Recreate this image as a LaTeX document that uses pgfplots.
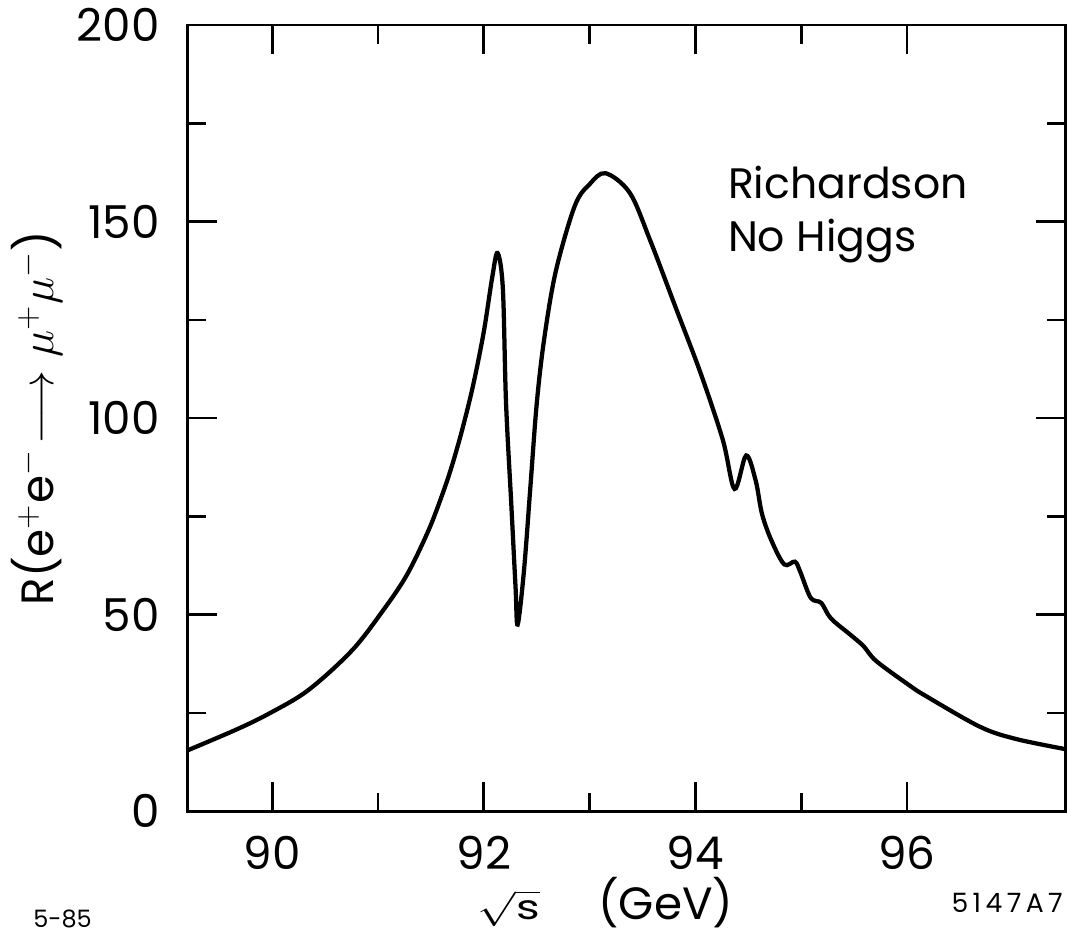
\documentclass[border=0pt]{standalone}
\usepackage{fontspec}
\setmainfont{Poppins}
\usepackage{pgfplots}
\pgfplotsset{compat=1.18}

\begin{document}
\begin{tikzpicture}
\begin{axis}[
    scale only axis,
    width=330pt, height=295.5pt,
    xmin=89.2, xmax=97.5,
    ymin=0, ymax=200,
    xtick={90,92,94,96},
    ytick={0,50,...,200},
    minor x tick num=1,
    minor y tick num=1,
    tick align=inside,
    major tick length=11pt,
    minor tick length=7pt,
    axis line style={line width=1.1pt},
    every tick/.style={black, line width=1pt},
    /pgf/number format/assume math mode=true,
    tick label style={font=\fontsize{17}{20}\selectfont},
    yticklabel style={xshift=-7pt},
    xticklabel style={inner sep=0pt, yshift=-9pt},
    label style={font=\fontsize{17}{20}\selectfont},
    xlabel={\scalebox{1}[0.75]{$\sqrt{\mbox{s}}$}\hspace{22pt}(GeV)},
    xlabel style={at={(axis description cs:0.476,-0.138)}, anchor=base, inner sep=0pt},
    ylabel={R(e$^{+}$e$^{-}\!\longrightarrow\mu^{+}\mu^{-}$)},
    ylabel style={at={(axis description cs:-0.172,0.5)}, anchor=center},
]
\addplot[black, line width=1.6pt, smooth, tension=0.55, no marks] coordinates {
  (89.20,15.5) (89.67,20.9) (89.98,25.0) (90.34,30.8) (90.75,40.8)
  (91.04,50.8) (91.27,60.0) (91.47,71.0) (91.60,80.0) (91.70,88.0)
  (91.80,97.5) (91.90,108.5) (92.00,122.0) (92.08,135.9) (92.13,142.0)
  (92.18,133.0) (92.21,104.0) (92.26,78.0) (92.30,57.0) (92.32,47.5)
  (92.38,61.3) (92.44,82.4) (92.50,103.6) (92.57,120.0) (92.68,137.3)
  (92.86,154.0) (93.00,159.5) (93.15,162.3) (93.38,157.3) (93.57,145.4)
  (93.81,128.4) (94.05,111.4) (94.26,94.4) (94.37,82.0) (94.48,90.5)
  (94.57,84.1) (94.63,75.6) (94.72,68.8) (94.84,62.8) (94.94,63.5)
  (94.99,61.0) (95.09,54.3) (95.19,53.0) (95.28,49.1) (95.47,44.8)
  (95.59,42.0) (95.71,38.2) (96.03,31.9) (96.18,29.3) (96.69,21.5)
  (97.03,18.4) (97.50,15.8)
};
\node[anchor=west, font=\fontsize{16}{19}\selectfont] at (axis cs:94.22,160) {Richardson};
\node[anchor=west, font=\fontsize{16}{19}\selectfont] at (axis cs:94.22,145) {No Higgs};
\end{axis}
\node[font=\fontsize{9}{11}\selectfont, inner sep=1pt] at (-47pt,-40.5pt) {5-85};
\node[font=\fontsize{10}{12}\selectfont] at (308pt,-34.5pt) {5\,1\,4\,7\,A\,7};
\pgfresetboundingbox
\path[use as bounding box] (-70.5pt,-46.1pt) rectangle (330.5pt,304.9pt);
\end{tikzpicture}
\end{document}
